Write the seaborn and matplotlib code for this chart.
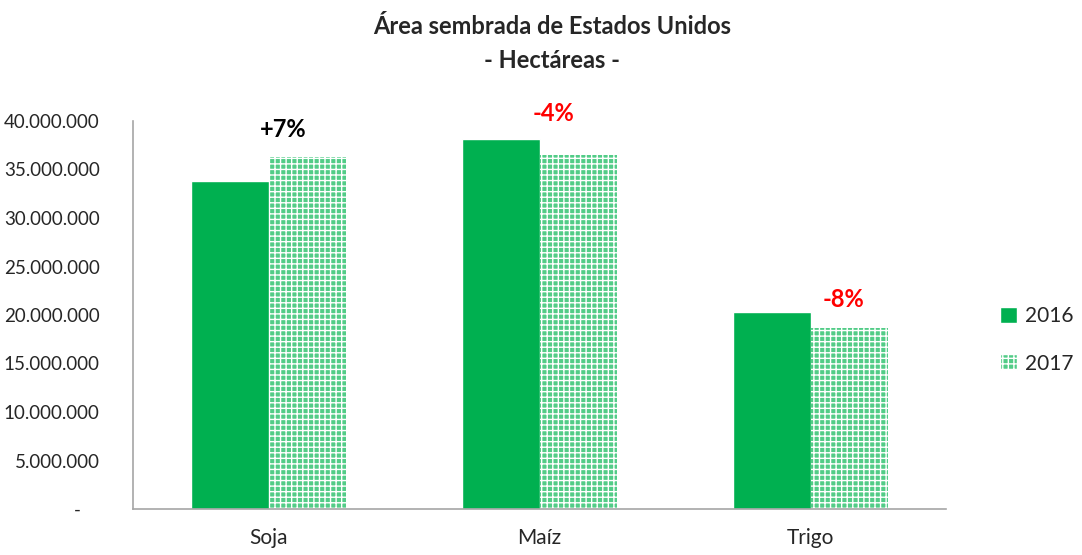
import numpy as np
import pandas as pd
import seaborn as sns
from matplotlib import pyplot as plt
from matplotlib.ticker import FuncFormatter

# datos (hectáreas)
cultivos = ['Soja', 'Maíz', 'Trigo']
area_2016 = [33800000, 38100000, 20300000]
area_2017 = [36300000, 36500000, 18650000]
variacion = ['+7%', '-4%', '-8%']
colores_var = ['black', 'red', 'red']

df = pd.DataFrame({
    'cultivo': cultivos * 2,
    'anio': ['2016'] * 3 + ['2017'] * 3,
    'area': area_2016 + area_2017,
})

sns.set_style('white')
plt.rcParams['font.family'] = ['Lato', 'DejaVu Sans']
plt.rcParams['hatch.color'] = 'white'
plt.rcParams['hatch.linewidth'] = 1.0

fig = plt.figure(figsize=(10.82, 5.55), dpi=100)
ax = fig.add_axes([133 / 1082, 1 - 509 / 555, 813 / 1082, 388 / 555])

verde = '#00B050'
sns.barplot(data=df, x='cultivo', y='area', hue='anio', ax=ax,
            palette=[verde, '#52cc87'], width=0.57, saturation=1, legend=True)

# patron cuadriculado para 2017
for barra in ax.containers[1]:
    barra.set_hatch('+++')
    barra.set_linewidth(0)

ax.set_ylim(0, 40000000)
ax.set_yticks(np.arange(0, 40000001, 5000000))
ax.yaxis.set_major_formatter(FuncFormatter(
    lambda v, p: '-    ' if v == 0 else f'{int(v):,}'.replace(',', '.')))
ax.set_xlabel('')
ax.set_ylabel('')
ax.tick_params(axis='y', length=0, pad=24, labelsize=13.5)
ax.tick_params(axis='x', length=0, pad=14, labelsize=15)

for lado in ['top', 'right']:
    ax.spines[lado].set_visible(False)
for lado in ['left', 'bottom']:
    ax.spines[lado].set_color('#a6a6a6')
    ax.spines[lado].set_linewidth(1.2)

# etiquetas de variacion
desplaz_x = [0.055, 0.05, 0.12]
alto_y = [39100000, 40800000, 21600000]
for i in range(3):
    ax.text(i + desplaz_x[i], alto_y[i], variacion[i], color=colores_var[i],
            fontsize=17, fontweight='bold', ha='center', va='center', clip_on=False)

ax.get_legend().remove()
handles, labels = ax.get_legend_handles_labels()
leg = fig.legend(handles, labels, loc='center left', bbox_to_anchor=(1000 / 1082, 1 - 340 / 555),
                 frameon=False, fontsize=15, handlelength=0.8, handleheight=0.8,
                 labelspacing=1.3, handletextpad=0.4, borderpad=0, borderaxespad=0)
leg.legend_handles[1].set_hatch('+++')

fig.text(0.51, 1 - 27 / 555, 'Área sembrada de Estados Unidos', ha='center', va='center',
         fontsize=17, fontweight='bold')
fig.text(0.51, 1 - 61 / 555, '- Hectáreas -', ha='center', va='center',
         fontsize=17, fontweight='bold')

fig.savefig('out.png', dpi=100)
